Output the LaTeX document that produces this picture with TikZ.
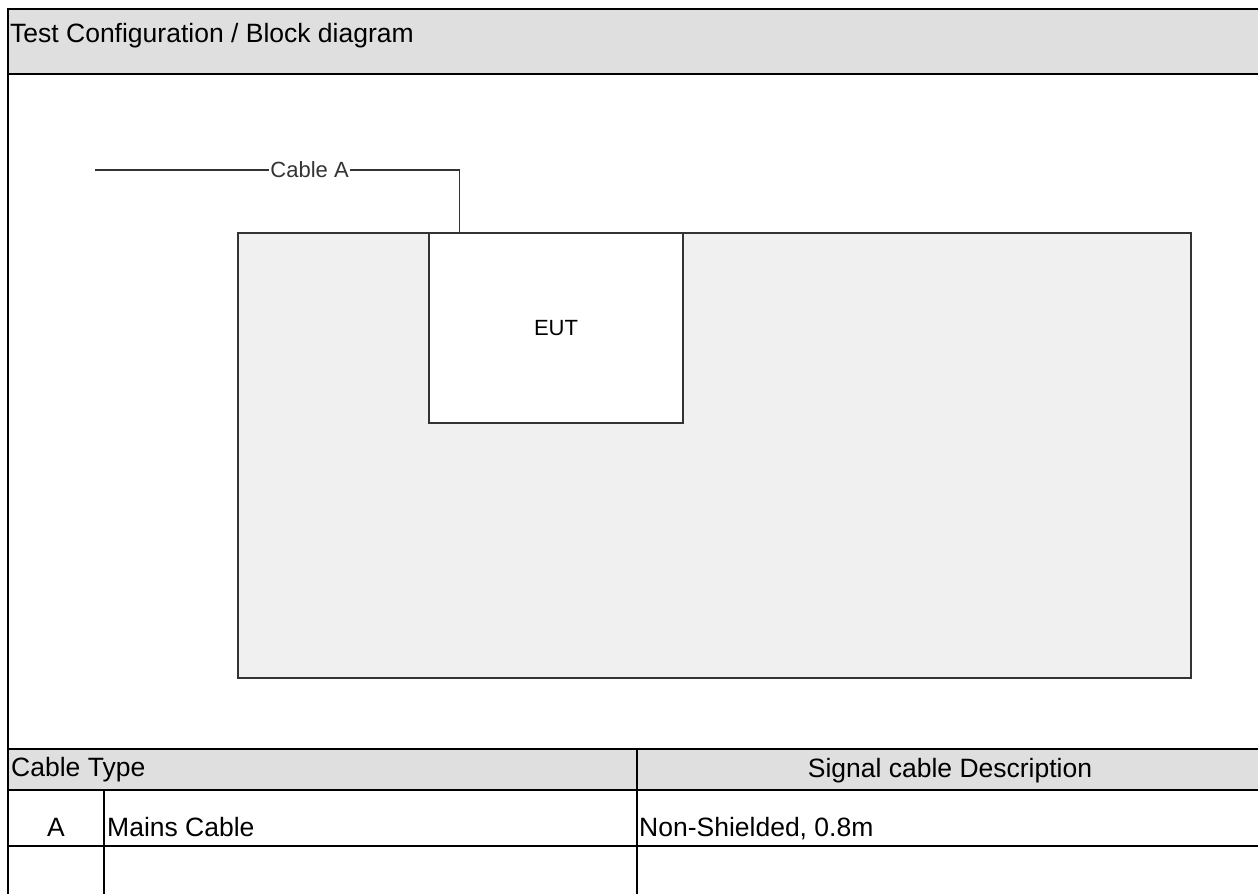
\documentclass[tikz,border=0pt]{standalone}
\usepackage{fontspec}
\setmainfont{Liberation Sans}
\usetikzlibrary{shadows}
\definecolor{hdgray}{RGB}{223,223,223}
\definecolor{planegray}{RGB}{240,240,240}
\begin{document}
\begin{tikzpicture}[x=1pt,y=-1pt,
  grid/.style={line width=2.2pt},
  cable/.style={line width=1.3pt, black!80},
  box/.style={draw=black!80, line width=1.3pt, drop shadow={shadow xshift=1.2pt, shadow yshift=-1.2pt, opacity=0.25}},
  big/.style={font=\fontsize{26.5}{30}\selectfont, inner sep=0pt},
  small/.style={font=\fontsize{22}{26}\selectfont, inner sep=0pt}]
\useasboundingbox (0,0) rectangle (1258,894);
\fill[hdgray] (8,9) rectangle (1258,74);
\fill[hdgray] (8,749) rectangle (1258,790);

\node[big, anchor=base west] (title) at (10,42) {Test Configuration / Block diagram};

% bench and EUT
\node[box, fill=planegray, minimum width=953pt, minimum height=445pt] (plane) at (714.5,455.5) {};
\node[box, small, fill=white, minimum width=254pt, minimum height=190pt] (eut) at (556,328) {EUT};

\coordinate (cableend) at (95,170);
\coordinate[xshift=31pt] (plug) at (eut.north west);
\draw[cable] (cableend) -- node[small, fill=white, inner xsep=1pt, pos=0.589] (cablelabel) {Cable A} (cableend -| plug) -- (plug);

% table
\node[big, anchor=base west] (hdtype) at (11,776) {Cable Type};
\node[big, anchor=base] (hddesc) at (950,777) {Signal cable Description};
\node[big, anchor=base] (typeA) at (56,836) {A};
\node[big, anchor=base west] (nameA) at (107,836) {Mains Cable};
\node[big, anchor=base west] (descA) at (639,836) {Non-Shielded, 0.8m};

\draw[grid] (8,894) -- (8,9) -- (1258,9);
\foreach \y in {74,749,790,846}
\draw[grid] (8,\y) -- (1258,\y);
\draw[grid] (637,749) -- (637,894);
\draw[grid] (104,790) -- (104,894);
\end{tikzpicture}
\end{document}
